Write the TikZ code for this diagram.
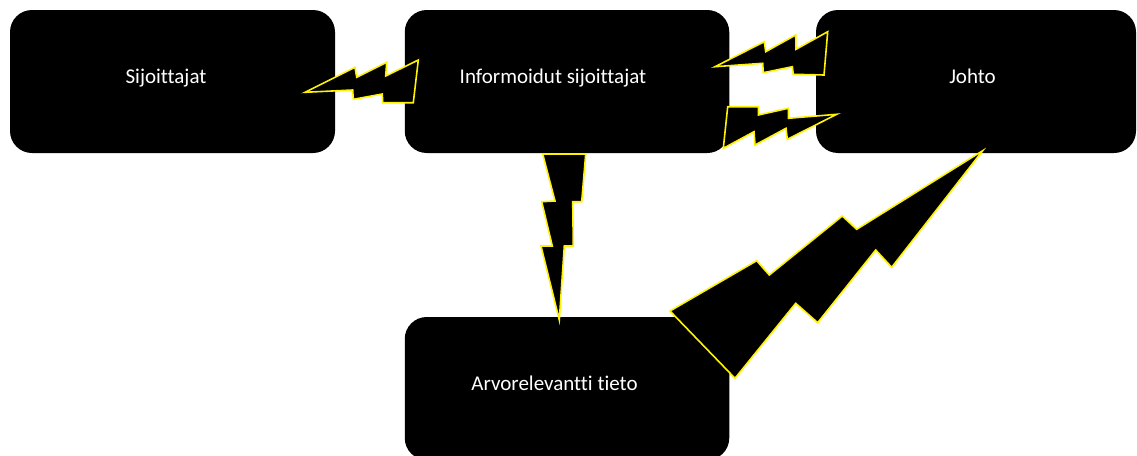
\documentclass[tikz,border=0pt]{standalone}
\usepackage{fontspec}
\setmainfont[RawFeature={-liga}]{Carlito}
\begin{document}
\begin{tikzpicture}[x=1pt,y=-1pt,
  box/.style={fill=black, draw=none, rounded corners=22pt, inner sep=0pt},
  lbl/.style={text=white, anchor=base, inner sep=0pt, font=\fontsize{21}{25}\selectfont},
  bolt/.style={fill=black, draw=yellow, line width=1.6pt, line join=miter}]
\useasboundingbox (0,0) rectangle (1137,455);
\clip (0,0) rectangle (1137,455);
% boxes
\node[box, minimum width=325pt, minimum height=143pt] (sij) at (172.5,81.5) {};
\node[box, minimum width=324.5pt, minimum height=143pt] (inf) at (567,81.5) {};
\node[box, minimum width=320pt, minimum height=143pt] (joh) at (976,81.5) {};
\node[box, minimum width=324.5pt, minimum height=143pt] (arv) at (567,388.5) {};
% labels
\node[lbl] (tsij) at (166,83) {Sijoittajat};
\node[lbl] (tinf) at (553,83) {Informoidut sijoittajat};
\node[lbl] (tjoh) at (972.5,83) {Johto};
\node[lbl] (tarv) at (554.5,390) {Arvorelevantti tieto};
% bolts
\draw[bolt] (305,92.3) -- (355,67.3) -- (356.7,77.3) -- (386.7,62.3) -- (385.7,76) -- (418.3,60) -- (413.3,102.7) -- (382.7,102.7) -- (382.3,94) -- (353.3,99.3) -- (352.7,90) -- cycle;
\draw[bolt] (715,66.7) -- (764.3,41.7) -- (765.7,51.7) -- (795.7,35) -- (796,49.3) -- (827.7,31.7) -- (824,75) -- (793.3,74.3) -- (792.3,66.7) -- (763.3,72.7) -- (762.7,63.3) -- cycle;
\draw[bolt] (727.7,106.7) -- (758.3,106.7) -- (758.3,115) -- (788.3,108.3) -- (788.3,118.3) -- (836.7,114.3) -- (787.3,139.3) -- (786,128.3) -- (755,145) -- (754,131.7) -- (723.3,148.3) -- cycle;
\draw[bolt] (542.7,154) -- (585.7,154) -- (581.7,201.7) -- (572.7,201.7) -- (573.3,246) -- (564.3,246) -- (559.3,320) -- (541,246) -- (552.3,246) -- (541.7,201.7) -- (555,201) -- cycle;
\draw[bolt] (982.7,150.7) -- (856.7,229.3) -- (842.3,216) -- (769.3,275) -- (756.7,260.7) -- (670,311) -- (735,378.3) -- (795.7,303.3) -- (817.7,322.7) -- (875.7,250) -- (891.7,267.3) -- cycle;
\end{tikzpicture}
\end{document}
